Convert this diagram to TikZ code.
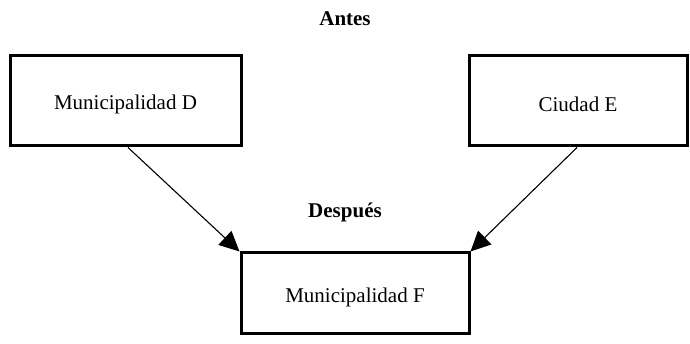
\documentclass[tikz,border=0pt]{standalone}
\usepackage{fontspec}
\setmainfont{Liberation Serif}
\usetikzlibrary{arrows.meta}
\begin{document}
\begin{tikzpicture}[x=1pt,y=-1pt,
  box/.style={draw=black,line width=3pt,fill=white,inner sep=0pt},
  lbl/.style={font=\fontsize{21}{25}\selectfont},
  ttl/.style={font=\fontsize{21}{25}\selectfont\bfseries},
  conn/.style={line width=1.1pt,-{Triangle[length=20pt,width=19pt]}}]
\useasboundingbox (0,0) rectangle (690,344);
\node[box,minimum width=231pt,minimum height=90pt] (d) at (125.5,101) {};
\node[lbl] (dt) at (125.5,104) {Municipalidad D};
\node[box,minimum width=218pt,minimum height=90pt] (e) at (578,101) {};
\node[lbl] (et) at (578,104) {Ciudad E};
\node[box,minimum width=228pt,minimum height=80pt] (f) at (355,293) {};
\node[lbl] (ft) at (355,297) {Municipalidad F};
\node[ttl] (antes) at (345,19) {Antes};
\node[ttl] (desp) at (345,212) {Después};
\coordinate (ds) at (128,147.5);
\coordinate (es) at (577,147.5);
\draw[conn] (ds) -- (f.north west);
\draw[conn] (es) -- (f.north east);
\end{tikzpicture}
\end{document}
